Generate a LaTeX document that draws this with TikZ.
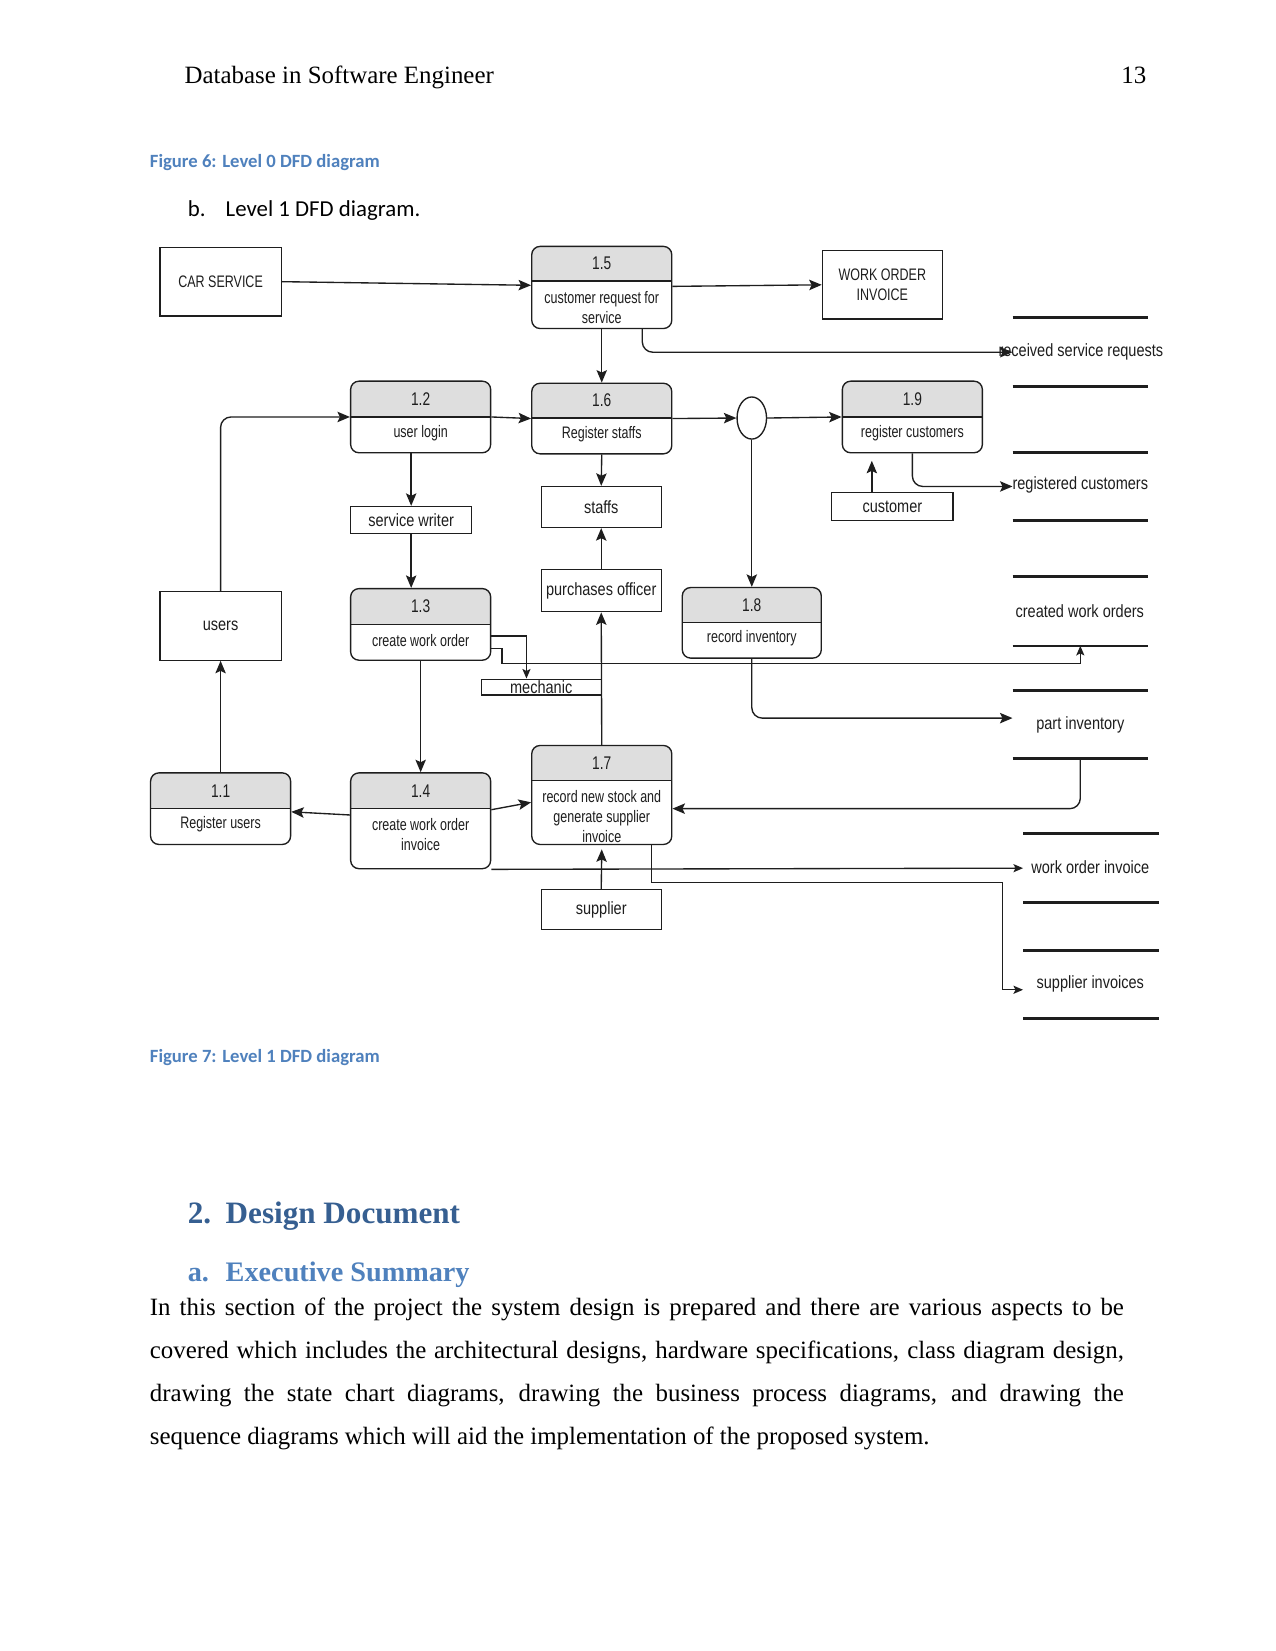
\documentclass[tikz,border=0pt]{standalone}
\usepackage{fontspec}
\setmainfont{Liberation Serif}
\newfontfamily\calib{Carlito}
\newfontfamily\dfa[FakeStretch=0.75]{Liberation Sans}
\newfontfamily\dfb[FakeStretch=0.82]{Liberation Sans}
\usetikzlibrary{arrows.meta,calc,shapes.geometric}
\definecolor{capblue}{HTML}{4F81BD}
\definecolor{headblue}{HTML}{365F91}
\definecolor{hdrgray}{HTML}{DEDEDE}
\definecolor{ink}{HTML}{1E1E1E}

\newcommand\dfdproc[9]{%
  \begin{scope}
    \clip (#2,#3) rectangle (#4,#6);
    \fill[hdrgray,rounded corners=4bp] (#2,#3) rectangle (#4,#5);
  \end{scope}
  \node[proc,minimum width={(#4-#2)*0.50537bp},minimum height={(#5-#3)*0.50537bp}] (#1) at ({(#2+#4)/2},{(#3+#5)/2}) {};
  \draw[ln] (#2,#6) -- (#4,#6);
  \node[ta,font=\dfa\fontsize{8.8bp}{10bp}\selectfont] (#1n) at ({(#2+#4)/2},{(#3+#6)/2}) {#7};
  \node[ta] (#1t) at ({(#2+#4)/2},#9) {#8};
}

\begin{document}
\begin{tikzpicture}[x=0.50537bp,y=-0.50537bp,
  ln/.style={draw=ink,line width=0.65bp},
  arr/.style={ln,-{Stealth[length=6bp,width=5bp,inset=1.2bp]}},
  sarr/.style={ln,-{Stealth[length=4.6bp,width=3.9bp,inset=1bp]}},
  ent/.style={draw=ink,line width=0.6bp,inner sep=0},
  proc/.style={draw=ink,line width=0.65bp,rounded corners=4bp,inner sep=0},
  dims/.style 2 args={minimum width=#1*0.50537bp,minimum height=#2*0.50537bp},
  ta/.style={font=\dfa\fontsize{8bp}{9.4bp}\selectfont,text=ink,align=center,inner sep=0},
  tb/.style={font=\dfb\fontsize{8.5bp}{10bp}\selectfont,text=ink,align=center,inner sep=0},
  storeln/.style={draw=ink,line width=1.3bp},
  page/.style={anchor=base west,inner sep=0,font=\fontsize{12}{14}\selectfont},
  capt/.style={anchor=base west,inner sep=0,font=\calib\bfseries\fontsize{9}{11}\selectfont,text=capblue},
]
\fill[white] (0,0) rectangle (1211,1568);
\useasboundingbox (0,0) rectangle (1211,1568);

% page text
\node[page] (hdr) at (175,79) {Database in Software Engineer};
\node[page,anchor=base east] (pg) at (1089,79) {13};
\node[capt] (cap6) at (142,158.7) {Figure 6: Level 0 DFD diagram};
\node[page,font=\calib\fontsize{11}{13}\selectfont] (bl) at (178,205.5) {b.};
\node[page,font=\calib\fontsize{11}{13}\selectfont] (blt) at (214,205.5) {Level 1 DFD diagram.};
\node[capt] (cap7) at (142,1008.7) {Figure 7: Level 1 DFD diagram};
\node[page,font=\bfseries\fontsize{15}{18}\selectfont,text=headblue] (h2n) at (178,1162) {2.};
\node[page,font=\bfseries\fontsize{15}{18}\selectfont,text=headblue] (h2t) at (214,1162) {Design Document};
\node[page,font=\bfseries\fontsize{13.6}{16}\selectfont,text=capblue] (h3n) at (178,1217) {a.};
\node[page,font=\bfseries\fontsize{13.6}{16}\selectfont,text=capblue] (h3t) at (214,1217) {Executive Summary};
\node[page] (b1) at (142,1249) {\makebox[467.5bp][s]{In this section of the project the system design is prepared and there are various aspects to be}};
\node[page] (b2) at (142,1290) {\makebox[467.5bp][s]{covered which includes the architectural designs, hardware specifications, class diagram design,}};
\node[page] (b3) at (142,1331) {\makebox[467.5bp][s]{drawing the state chart diagrams, drawing the business process diagrams, and drawing the}};
\node[page] (b4) at (142,1372) {sequence diagrams which will aid the implementation of the proposed system.};

% processes
\dfdproc{p15}{505}{234}{638}{312}{267}{1.5}{customer request for\\service}{292}
\dfdproc{p12}{333}{362}{466}{430}{396}{1.2}{user login}{411}
\dfdproc{p16}{505}{364}{638}{431}{397}{1.6}{Register staffs}{412}
\dfdproc{p19}{800}{362}{933}{430}{396}{1.9}{register customers}{411}
\dfdproc{p13}{333}{559}{466}{627}{593}{1.3}{create work order}{608}
\dfdproc{p18}{648}{558}{780}{625}{591}{1.8}{record inventory}{606}
\dfdproc{p11}{143}{734}{276}{802}{768}{1.1}{Register users}{783}
\dfdproc{p14}{333}{734}{466}{825}{768}{1.4}{create work order\\invoice}{792.5}
\dfdproc{p17}{505}{708}{638}{802}{741}{1.7}{record new stock and\\generate supplier\\invoice}{775.5}

% entities
\node[ent,dims={115}{65},ta] (car) at (209.5,267.5) {CAR SERVICE};
\node[ent,dims={114}{65},ta] (woi) at (838,270.5) {WORK ORDER\\INVOICE};
\node[ent,dims={115}{65},tb] (users) at (209.5,594.5) {users};
\node[ent,dims={115}{26},tb] (sw) at (390.5,494) {service writer};
\node[ent,dims={114}{15},tb] (mech) at (514,652.5) {mechanic};
\node[ent,dims={114}{39},tb] (staffs) at (571,481.5) {staffs};
\node[ent,dims={114}{40},tb] (po) at (571,561) {purchases officer};
\node[ent,dims={115}{26},tb] (cust) at (847.5,481) {customer};
\node[ent,dims={114}{38},tb] (sup) at (571,864) {supplier};
\node[draw=ink,line width=0.65bp,ellipse,dims={28}{40},inner sep=0] (circ) at (714,397) {};

% data stores
\node[dims={128}{65},inner sep=0] (ds1) at (1026,334.5) {};
\node[dims={128}{64},inner sep=0] (ds2) at (1026,462) {};
\node[dims={128}{65},inner sep=0] (ds3) at (1026,580.5) {};
\node[dims={128}{64},inner sep=0] (ds4) at (1026,688) {};
\node[dims={128}{65},inner sep=0] (ds5) at (1036,824.5) {};
\node[dims={128}{64},inner sep=0] (ds6) at (1036,935) {};
\foreach \d in {ds1,ds2,ds3,ds4,ds5,ds6}{
  \draw[storeln] (\d.north west) -- (\d.north east) (\d.south west) -- (\d.south east);
}
\node[tb] (ds1t) at (1026.5,334) {received service requests};
\node[tb] (ds2t) at (1026,461) {registered customers};
\node[tb] (ds3t) at (1025.5,580) {created work orders};
\node[tb] (ds4t) at (1026,688) {part inventory};
\node[tb] (ds5t) at (1035.5,824) {work order invoice};
\node[tb] (ds6t) at (1035.5,934) {supplier invoices};

% connectors
\draw[arr] (car.east) -- ($(p15.north west)!0.474!(p15.south west)$);
\draw[arr] ($(p15.north east)!0.487!(p15.south east)$) -- (woi.west);
\draw[arr] (p15.south) -- (p16.north);
\draw[arr,rounded corners=5bp] ($(p15.south)+(38.5,0)$) |- (ds1.west);
\draw[arr] (p12.east) -- (p16.west);
\draw[arr] (p16.east) -- (circ.west);
\draw[arr] (circ.east) -- (p19.west);
\draw[arr,rounded corners=5bp] (users.north) |- (p12.west);
\draw[arr] (p11.north) -- (users.south);
\draw[arr] (sw.north |- p12.south) -- (sw.north);
\draw[arr] (sw.south) -- (sw.south |- p13.north);
\draw[sarr] ($(p13.east)+(0,11)$) -| ($(mech.north)+(-14,0)$);
\draw[sarr] ($(p13.east)+(0,23)$) -- ++(10,0) -- ++(0,14) -| (ds3.south);
\draw[arr] (p16.south) -- (staffs.north);
\draw[arr] (po.north) -- (staffs.south);
\draw[arr] (p17.north) -- (po.south);
\draw[arr] (circ.south) -- (p18.north);
\draw[arr,rounded corners=5bp] (p18.south) |- ($(ds4.west)+(0,-6)$);
\draw[arr] ($(cust.north)+(-19.5,0)$) -- ($(p19.south)+(-38.5,7)$);
\draw[arr,rounded corners=5bp] (p19.south) |- (ds2.west);
\draw[arr] (p13.south) -- (p14.north);
\draw[arr] ($(p14.west)+(0,-5.5)$) -- ($(p11.east)+(0,3)$);
\draw[arr] ($(p14.east)+(0,-10.5)$) -- ($(p17.west)+(0,7)$);
\draw[arr,rounded corners=5bp] (ds4.south) |- ($(p17.east)+(0,13)$);
\draw[arr] (sup.north) -- ($(p17.south)+(0,4)$);
\draw[sarr] (p14.south east) -- (ds5.west);
\coordinate (bend) at (952,838);
\draw[sarr] ($(p17.south)+(47.5,0)$) |- (bend) |- ($(ds6.west)+(0,5)$);
\end{tikzpicture}
\end{document}
